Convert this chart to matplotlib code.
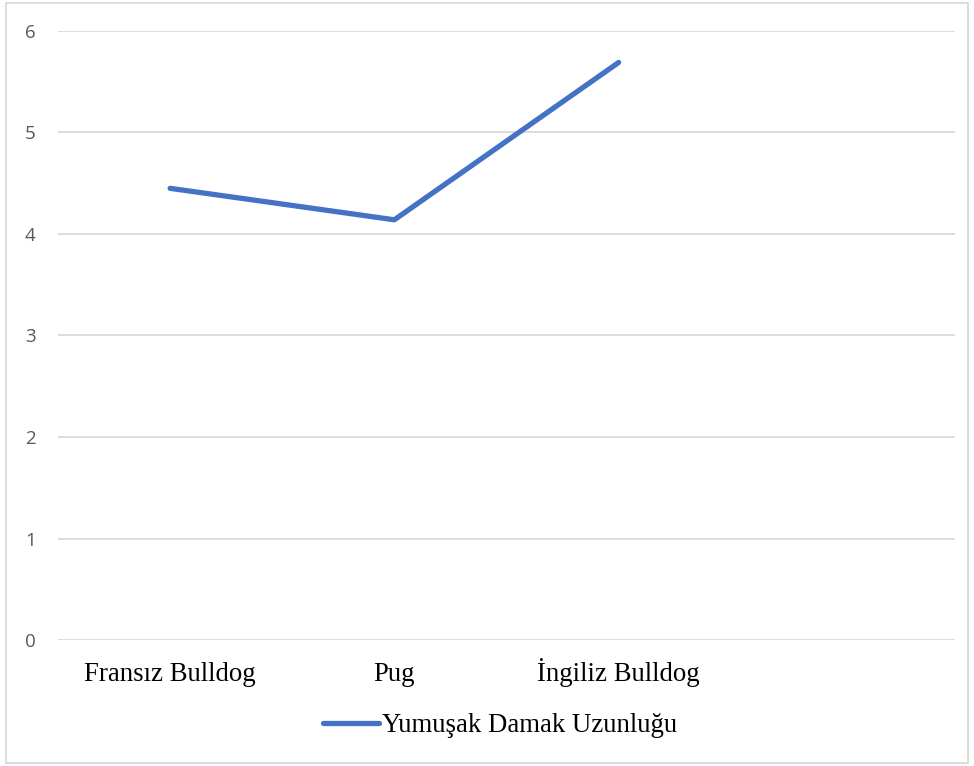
import matplotlib
matplotlib.use("Agg")
import matplotlib.pyplot as plt
from matplotlib.patches import Rectangle

categories = ["Fransız Bulldog", "Pug", "İngiliz Bulldog", ""]
values = [4.45, 4.14, 5.69]
series_name = "Yumuşak Damak Uzunluğu"
yticks = [0, 1, 2, 3, 4, 5, 6]

W, H = 974, 766
fig = plt.figure(figsize=(W / 100, H / 100), dpi=100)
ax = fig.add_axes([58 / W, 1 - 640 / H, (955 - 58) / W, (640 - 31) / H])

x = list(range(len(categories)))
ax.plot(x[:len(values)], values, color="#4472C4", lw=3.8, solid_capstyle="round",
        label=series_name)
ax.set_xlim(-0.5, len(categories) - 0.5)
ax.set_ylim(0, 6)
ax.set_yticks(yticks)
ax.set_yticklabels([str(v) for v in yticks], family="Open Sans", fontsize=13.5, color="#595959")
ax.set_xticks(x)
ax.set_xticklabels(categories, family="Liberation Serif", fontsize=19.3, color="black")
for lab in ax.get_xticklabels():
    lab.set_verticalalignment("baseline")
ax.tick_params(axis="both", length=0)
ax.tick_params(axis="y", pad=16)
ax.tick_params(axis="x", pad=29.5)
ax.grid(axis="y", color="#D9D9D9", lw=1.3)
ax.set_axisbelow(True)
for s in ax.spines.values():
    s.set_visible(False)

leg = ax.legend(loc="center", bbox_to_anchor=(500 / W, 1 - 726 / H),
                bbox_transform=fig.transFigure, frameon=False,
                prop={"family": "Liberation Serif", "size": 19.3},
                handlelength=2.1, handletextpad=0.1, borderpad=0, borderaxespad=0)

fig.patches.append(Rectangle((6 / W, 3 / H), (968 - 6) / W, (763 - 3) / H,
                             transform=fig.transFigure, fill=False,
                             edgecolor="#D9D9D9", lw=1.3))
fig.savefig("out.png", dpi=100)
